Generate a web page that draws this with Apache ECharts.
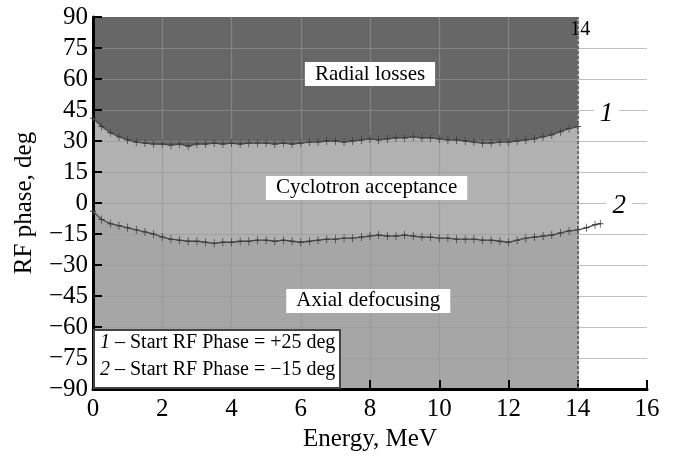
<!DOCTYPE html>
<html>
<head>
<meta charset="utf-8">
<script src="https://cdn.jsdelivr.net/npm/echarts@6/dist/echarts.min.js"></script>
<style>html,body{margin:0;padding:0;background:#fff}#c{width:674px;height:457px}</style>
</head>
<body>
<div id="c"></div>
<script>
// ---- data ----
const energy1 = [0,0.25,0.5,0.75,1,1.25,1.5,1.75,2,2.25,2.5,2.75,3,3.25,3.5,3.75,4,4.25,4.5,4.75,5,5.25,5.5,5.75,6,6.25,6.5,6.75,7,7.25,7.5,7.75,8,8.25,8.5,8.75,9,9.25,9.5,9.75,10,10.25,10.5,10.75,11,11.25,11.5,11.75,12,12.25,12.5,12.75,13,13.25,13.5,13.75,14];
const phase1 = [41,37,34,32,30.5,29.5,29,28.5,28.5,28,28.5,27.5,28.5,28.5,29,28.5,29,28.5,29,29,29,28.5,29,28.5,29,29.5,29.5,30,30,29.5,30,30.5,31,30.5,31,31.5,31.5,32,31.5,31.5,31,30.5,30.5,30,29.5,29,29,29.5,29.5,30,30.5,31,32,33,34.5,36,37];
const energy2 = [0,0.25,0.5,0.75,1,1.25,1.5,1.75,2,2.25,2.5,2.75,3,3.25,3.5,3.75,4,4.25,4.5,4.75,5,5.25,5.5,5.75,6,6.25,6.5,6.75,7,7.25,7.5,7.75,8,8.25,8.5,8.75,9,9.25,9.5,9.75,10,10.25,10.5,10.75,11,11.25,11.5,11.75,12,12.25,12.5,12.75,13,13.25,13.5,13.75,14,14.25,14.5,14.65];
const phase2 = [-4,-8,-10,-11,-12,-13,-14,-15,-16.5,-17.5,-18,-18.5,-18.5,-19,-19.5,-19,-19,-18.5,-18.5,-18,-18,-18.5,-18,-18.5,-19,-18.5,-18,-17.5,-17.5,-17,-17,-16.5,-16,-15.5,-16,-16,-15.5,-16,-16.5,-16.5,-17,-17,-17.5,-17.5,-17.5,-18,-18,-18.5,-19,-18,-17,-16.5,-16,-15.5,-14.5,-13.5,-13,-12,-10.5,-10];
const xTicks = [0,2,4,6,8,10,12,14,16];
const yTicks = [-90,-75,-60,-45,-30,-15,0,15,30,45,60,75,90];
const regionLabels = ['Radial losses','Cyclotron acceptance','Axial defocusing'];
const curveLabels = ['1','2'];
const legendLines = ['Start RF Phase = +25 deg','Start RF Phase = \u221215 deg'];
const energyLimit = 14;

// ---- derived ----
const pts1 = energy1.map((e,i)=>[e,phase1[i]]);
const pts2 = energy2.map((e,i)=>[e,phase2[i]]);
const shade1 = pts1.filter(p=>p[0]<=energyLimit);
const shade2 = pts2.filter(p=>p[0]<=energyLimit);

const SERIF = '"Liberation Serif","DejaVu Serif",serif';
const plus = 'path://M-0.12,-1H0.12V-0.12H1V0.12H0.12V1H-0.12V0.12H-1V-0.12H-0.12Z';
const minus = v => String(v).replace('-', '\u2212');

const chart = echarts.init(document.getElementById('c'), null, {renderer:'canvas'});
const boxLabel = {
  show:true, fontFamily:SERIF, fontSize:21, color:'#000',
  backgroundColor:'#fff', padding:[2,10,1,10]
};
const numLabel = (txt, size, italic) => ({
  show:true, formatter:txt, fontFamily:SERIF, fontStyle: italic ? 'italic' : 'normal',
  fontSize:size, color:'#000', backgroundColor: italic ? '#fff' : 'transparent', padding: italic ? [0,6,0,6] : 0
});
chart.setOption({
  animation:false,
  backgroundColor:'#fff',
  grid:{left:93, right:27, top:17, bottom:68},
  xAxis:{
    type:'value', min:0, max:16, interval:2, z:2,
    name:'Energy, MeV', nameLocation:'middle', nameGap:35,
    nameTextStyle:{fontFamily:SERIF, fontSize:25, color:'#000'},
    axisLine:{show:true, onZero:false, lineStyle:{color:'#000', width:3}},
    axisTick:{show:true, inside:true, length:9, lineStyle:{color:'#000', width:2}},
    axisLabel:{fontFamily:SERIF, fontSize:25, color:'#000', margin:8, formatter:v=>minus(v)},
    splitLine:{show:true, showMinLine:false, showMaxLine:false, lineStyle:{color:'rgba(150,150,150,0.6)', width:1.2}}
  },
  yAxis:{
    type:'value', min:-90, max:90, interval:15, z:2,
    name:'RF phase, deg', nameLocation:'middle', nameGap:56, nameRotate:90,
    nameTextStyle:{fontFamily:SERIF, fontSize:25, color:'#000'},
    axisLine:{show:true, onZero:false, lineStyle:{color:'#000', width:3}},
    axisTick:{show:true, inside:true, length:9, lineStyle:{color:'#000', width:2}},
    axisLabel:{fontFamily:SERIF, fontSize:25, color:'#000', margin:5, formatter:v=>minus(v)},
    splitLine:{show:true, showMinLine:false, showMaxLine:false, lineStyle:{color:'rgba(150,150,150,0.6)', width:1.2}}
  },
  series:[
    {type:'line', data:shade1, z:1, showSymbol:false, silent:true,
     lineStyle:{width:0}, areaStyle:{origin:'end', color:'#676767', opacity:1}},
    {type:'line', data:shade1, z:1, showSymbol:false, silent:true,
     lineStyle:{width:0}, areaStyle:{origin:'start', color:'#b1b1b1', opacity:1}},
    {type:'line', data:shade2, z:1, showSymbol:false, silent:true,
     lineStyle:{width:0}, areaStyle:{origin:'start', color:'#a6a6a6', opacity:1},
     markLine:{silent:true, symbol:'none', label:{show:false},
       lineStyle:{color:'#555', type:[3,2], width:1.5},
       data:[{xAxis:energyLimit}]}},
    {type:'line', data:pts1, z:4, symbol:plus, symbolSize:[6,8], showSymbol:true,
     itemStyle:{color:'#3a3a3a'}, lineStyle:{color:'#4a4a4a', width:1.3},
     markPoint:{symbol:'circle', symbolSize:0, data:[
       {coord:[8.0,62.4], value:0, label:Object.assign({}, boxLabel, {formatter:regionLabels[0]})},
       {coord:[7.9,7.3], value:0, label:Object.assign({}, boxLabel, {formatter:regionLabels[1]})},
       {coord:[7.95,-47.4], value:0, label:Object.assign({}, boxLabel, {formatter:regionLabels[2]})},
       {coord:[14.83,43], value:0, label:numLabel(curveLabels[0], 27, true)},
       {coord:[15.2,-1.5], value:0, label:numLabel(curveLabels[1], 27, true)},
       {coord:[14.07,84], value:0, label:numLabel(String(energyLimit), 20, false)}
     ]}},
    {type:'line', data:pts2, z:4, symbol:plus, symbolSize:[6,8], showSymbol:true,
     itemStyle:{color:'#3a3a3a'}, lineStyle:{color:'#4a4a4a', width:1.3}}
  ],
  graphic:[
    {type:'rect', z:100, shape:{x:94, y:330, width:246, height:58},
     style:{fill:'#fff', stroke:'#444', lineWidth:2}},
    {type:'text', z:101, x:100, y:333, style:{
      text:'{i|'+curveLabels[0]+'} \u2013 '+legendLines[0],
      rich:{i:{fontStyle:'italic', fontFamily:SERIF, fontSize:20}},
      font:'20px "Liberation Serif", serif', fill:'#000'}},
    {type:'text', z:101, x:100, y:360, style:{
      text:'{i|'+curveLabels[1]+'} \u2013 '+legendLines[1],
      rich:{i:{fontStyle:'italic', fontFamily:SERIF, fontSize:20}},
      font:'20px "Liberation Serif", serif', fill:'#000'}}
  ]
});
</script>
</body>
</html>
